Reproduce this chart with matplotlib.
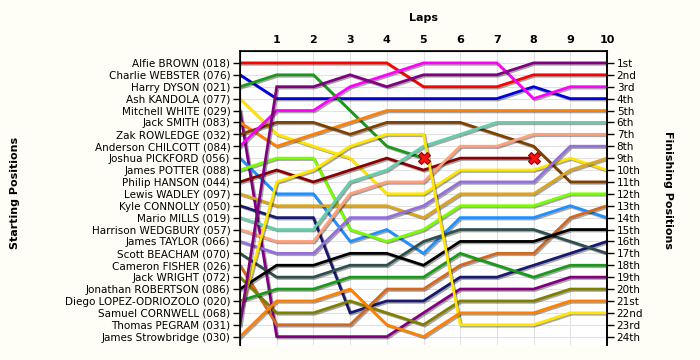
import numpy as np
import matplotlib
matplotlib.use("Agg")
import matplotlib.pyplot as plt
import matplotlib.patheffects as pe

drivers = ["Alfie BROWN (018)", "Charlie WEBSTER (076)", "Harry DYSON (021)", "Ash KANDOLA (077)",
           "Mitchell WHITE (029)", "Jack SMITH (083)", "Zak ROWLEDGE (032)", "Anderson CHILCOTT (084)",
           "Joshua PICKFORD (056)", "James POTTER (088)", "Philip HANSON (044)", "Lewis WADLEY (097)",
           "Kyle CONNOLLY (050)", "Mario MILLS (019)", "Harrison WEDGBURY (057)", "James TAYLOR (066)",
           "Scott BEACHAM (070)", "Cameron FISHER (026)", "Jack WRIGHT (072)", "Jonathan ROBERTSON (086)",
           "Diego LOPEZ-ODRIOZOLO (020)", "Samuel CORNWELL (068)", "Thomas PEGRAM (031)", "James Strowbridge (030)"]
colors = ["#ff0000", "#0000e0", "#1a9a1a", "#ffe600", "#800080", "#ff8000", "#804000", "#ff00ff",
          "#1e90ff", "#7cfc00", "#8b0000", "#daa520", "#191970", "#66cdaa", "#ffa07a", "#9370db",
          "#2f4f4f", "#d2691e", "#808000", "#000000", "#1a9a1a", "#ffe600", "#800080", "#ff8000"]
finish_labels = ["1st", "2nd", "3rd", "4th", "5th", "6th", "7th", "8th", "9th", "10th", "11th", "12th",
                 "13th", "14th", "15th", "16th", "17th", "18th", "19th", "20th", "21st", "22nd", "23rd", "24th"]

N = None
# position of each driver (in the order above) after each lap; None = retired
lap0 = list(range(1, 25))
lap1 = [1, 4, 2, 7, 24, 8, 6, 5, 12, 9, 10, 13, 14, 15, 16, 17, 19, 23, 22, 18, 20, 11, 3, 21]
lap2 = [1, 4, 2, 8, 24, 7, 6, 5, 12, 9, 11, 13, 14, 15, 16, 17, 19, 23, 22, 18, 20, 10, 3, 21]
lap3 = [1, 4, 5, 9, 24, 6, 7, 3, 16, 15, 10, 13, 22, 11, 12, 14, 18, 23, 21, 17, 19, 8, 2, 20]
lap4 = [1, 4, 8, 12, 24, 5, 6, 2, 15, 16, 9, 13, 21, 10, 11, 14, 18, 20, 22, 17, 19, 7, 3, 23]
lap5 = [3, 4, 9, 12, 22, 5, 6, 1, 17, 15, 10, 14, 21, 8, 11, 13, 16, 20, 23, 18, 19, 7, 2, 24]
lap6 = [3, 4, N, 10, 20, 5, 6, 1, 14, 13, 9, 12, 19, 7, 8, 11, 15, 18, 21, 16, 17, 23, 2, 22]
lap7 = [3, 4, N, 10, 20, 5, 7, 1, 14, 13, 9, 12, 19, 6, 8, 11, 15, 17, 21, 16, 18, 23, 2, 22]
lap8 = [2, 3, N, 10, 20, 5, 8, 4, 14, 13, 9, 12, 18, 6, 7, 11, 15, 17, 21, 16, 19, 23, 1, 22]
lap9 = [2, 4, N, 9, 19, 5, 11, 3, 13, 12, N, 10, 17, 6, 7, 8, 16, 14, 20, 15, 18, 22, 1, 21]
lap10 = [2, 4, N, 10, 19, 5, 11, 3, 14, 12, N, 9, 16, 6, 7, 8, 17, 13, 20, 15, 18, 22, 1, 21]

laps = np.arange(11)
P = np.array([lap0, lap1, lap2, lap3, lap4, lap5, lap6, lap7, lap8, lap9, lap10], dtype=float).T

fig = plt.figure(figsize=(7, 3.6), dpi=100, facecolor="#fffef6")
ax = fig.add_axes([240/700, 15/360, 367/700, 294/360])
ax.set_facecolor("white")
ax.set_xlim(0, 10); ax.set_ylim(24.7, 0)

ax.set_xticks(range(1, 11)); ax.set_xticks(range(0, 11), minor=True)
ax.xaxis.tick_top()
ax.set_xticklabels([str(i) for i in range(1, 11)], fontweight="bold", fontsize=8)
ax.tick_params(axis="x", which="both", length=0, pad=4)
ax.set_yticks(range(1, 25))
ax.set_yticklabels(drivers, fontsize=7.5)
ax.tick_params(axis="y", length=5, width=1, pad=2)
ax.grid(True, color="#e2e2e2", lw=0.8, zorder=0)
for s in ["top", "left", "right"]:
    ax.spines[s].set_linewidth(1.2)
ax.spines["bottom"].set_visible(False)

ax2 = ax.twinx()
ax2.set_ylim(24.7, 0)
ax2.set_yticks(range(1, 25))
ax2.set_yticklabels(finish_labels, fontsize=7.5)
ax2.tick_params(axis="y", length=5, width=1, pad=2)
ax2.spines["bottom"].set_visible(False)
ax2.spines["right"].set_linewidth(1.2)

fx = [pe.SimpleLineShadow(offset=(1, -1), shadow_color="k", alpha=0.35), pe.Normal()]
for i in range(len(drivers)):
    y = P[i]
    ax.plot(laps, y, color=colors[i], lw=2, path_effects=fx, zorder=3, solid_joinstyle="miter")
    if np.isnan(y[-1]):
        k = np.where(~np.isnan(y))[0][-1]
        ax.plot(laps[k], y[k], marker="X", ms=9, mfc="#ff1010", mec="#900000", mew=0.8, zorder=5)

fig.text(423/700, 1 - 18/360, "Laps", ha="center", va="center", fontweight="bold", fontsize=8)
fig.text(15/700, 1 - 193/360, "Starting Positions", rotation=90, ha="center", va="center",
         fontweight="bold", fontsize=8)
fig.text(668/700, 1 - 190/360, "Finishing Positions", rotation=270, ha="center", va="center",
         fontweight="bold", fontsize=8)

fig.savefig("out.png", dpi=100, facecolor=fig.get_facecolor())
